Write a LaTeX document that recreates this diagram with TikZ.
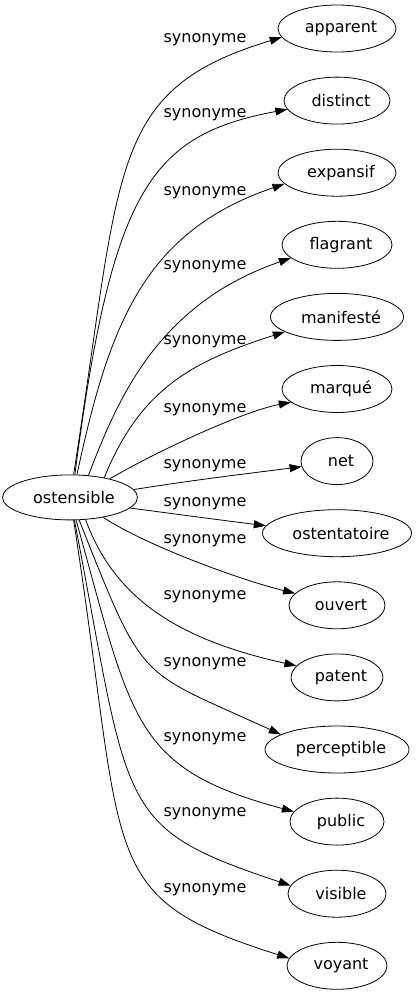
\documentclass[tikz,border=0pt]{standalone}
\usepackage{fontspec}
\setmainfont{DejaVu Sans}
\usetikzlibrary{arrows.meta,shapes.geometric}
\begin{document}
\begin{tikzpicture}[x=1pt,y=1pt,
  every node/.style={font=\fontsize{16}{19}\selectfont},
  tnode/.style={ellipse, draw, line width=0.8pt, inner sep=0pt, minimum height=47pt,
    execute at begin node={\hspace*{8pt}}},
  lbl/.style={inner sep=0pt, anchor=center},
  syn/.style={line width=0.8pt, -{Triangle[length=12pt,width=8pt]}}]
\useasboundingbox (0,0) rectangle (417,-995);
\node[tnode, minimum width=135pt, minimum height=45pt] (ost) at (70,-497.4) {ostensible};
\node[tnode, minimum width=118pt] (t0) at (337,-28.5) {apparent};
\node[tnode, minimum width=106pt] (t1) at (337,-100.6) {distinct};
\node[tnode, minimum width=118pt] (t2) at (337,-172.7) {expansif};
\node[tnode, minimum width=110pt] (t3) at (337,-244.8) {flagrant};
\node[tnode, minimum width=133pt] (t4) at (337,-316.9) {manifesté};
\node[tnode, minimum width=110pt] (t5) at (337,-389) {marqué};
\node[tnode, minimum width=72pt] (t6) at (337,-461.1) {net};
\node[tnode, minimum width=149pt] (t7) at (337,-533.2) {ostentatoire};
\node[tnode, minimum width=96pt] (t8) at (337,-605.3) {ouvert};
\node[tnode, minimum width=92pt] (t9) at (337,-677.4) {patent};
\node[tnode, minimum width=144pt] (t10) at (337,-749.5) {perceptible};
\node[tnode, minimum width=94pt] (t11) at (337,-821.6) {public};
\node[tnode, minimum width=98pt] (t12) at (337,-893.7) {visible};
\node[tnode, minimum width=100pt] (t13) at (337,-965.8) {voyant};

\draw[syn] (ost.81) .. controls (122,-166) and (107,-90) .. (t0.189) node[lbl] at (205,-40) {synonyme};
\draw[syn] (ost.78) .. controls (112,-190) and (150,-135) .. (t1.190) node[lbl] at (205,-115) {synonyme};
\draw[syn] (ost.73) .. controls (109.6,-322.2) and (145,-231.5) .. (t2.192) node[lbl] at (205,-193) {synonyme};
\draw[syn] (ost.50) .. controls (118,-398) and (158,-303.8) .. (t3.196) node[lbl] at (205,-267) {synonyme};
\draw[syn] (ost.30) .. controls (140,-390) and (190,-362) .. (t4.196) node[lbl] at (205,-342) {synonyme};
\draw[syn] (ost.25) .. controls (150,-455) and (240,-412) .. (t5.196) node[lbl] at (205,-410) {synonyme};
\draw[syn] (ost.7) .. controls (191.5,-480.3) and (246.4,-473.7) .. (t6.189) node[lbl] at (205,-466) {synonyme};
\draw[syn] (ost.-10) .. controls (175,-514) and (220,-520) .. (t7.174) node[lbl] at (205,-504) {synonyme};
\draw[syn] (ost.-31) .. controls (145,-545) and (240,-580) .. (t8.164) node[lbl] at (205,-541) {synonyme};
\draw[syn] (ost.-55) .. controls (115,-600) and (180,-640) .. (t9.164) node[lbl] at (205,-597) {synonyme};
\draw[syn] (ost.-68) .. controls (145.3,-686.4) and (136.3,-668.3) .. (t10.165) node[lbl] at (205,-664) {synonyme};
\draw[syn] (ost.-75) .. controls (132.5,-721.3) and (131.8,-768.1) .. (t11.167) node[lbl] at (205,-739) {synonyme};
\draw[syn] (ost.-79) .. controls (130.4,-810.9) and (114.3,-827.2) .. (t12.170) node[lbl] at (205,-814) {synonyme};
\draw[syn] (ost.-81) .. controls (127.1,-863.9) and (93.9,-896.5) .. (t13.171) node[lbl] at (205,-890) {synonyme};
\end{tikzpicture}
\end{document}
